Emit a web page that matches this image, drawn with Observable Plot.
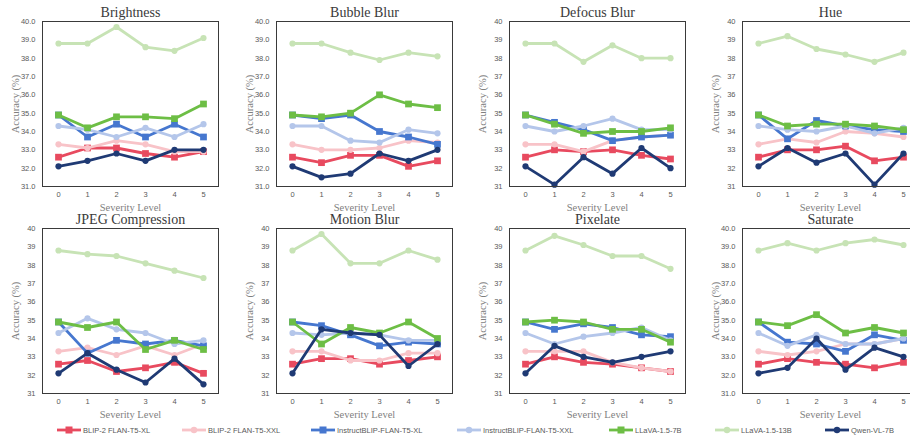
<!DOCTYPE html>
<html><head><meta charset="utf-8">
<script src="https://cdn.jsdelivr.net/npm/d3@7"></script>
<script src="https://cdn.jsdelivr.net/npm/@observablehq/plot@0.6"></script>
<style>
body{margin:0;background:#fff;overflow:hidden}
#root{position:relative;width:910px;height:441px;overflow:hidden;background:#fff}
.panel{position:absolute;width:222px;height:212px}
.panel svg{max-width:none !important}
.leg{position:absolute;top:425px;display:flex;align-items:center;font-family:"Liberation Sans",Arial,sans-serif;font-size:7.5px;color:#595959;white-space:nowrap}
.leg svg{margin-right:2px}
</style></head>
<body><div id="root"></div>
<script>
const severity = [0, 1, 2, 3, 4, 5];
const models = ["BLIP-2 FLAN-T5-XL", "BLIP-2 FLAN-T5-XXL", "InstructBLIP-FLAN-T5-XL", "InstructBLIP-FLAN-T5-XXL", "LLaVA-1.5-7B", "LLaVA-1.5-13B", "Qwen-VL-7B"];
const colors = ["#E84A5F", "#F8C3C8", "#4677CF", "#B4C6EA", "#6DBE45", "#C7E3B5", "#1F3A74"];
const symbols = ["square", "circle", "square", "circle", "square", "circle", "circle"];

// rows: models in order above; columns: severity 0..5
const brightness = [
  [32.6, 33.1, 33.1, 32.8, 32.6, 32.9],
  [33.3, 33.1, 33.5, 33.3, 32.9, 32.9],
  [34.9, 33.7, 34.4, 33.7, 34.4, 33.7],
  [34.3, 34.1, 33.7, 34.2, 33.7, 34.4],
  [34.9, 34.2, 34.8, 34.8, 34.7, 35.5],
  [38.8, 38.8, 39.7, 38.6, 38.4, 39.1],
  [32.1, 32.4, 32.8, 32.4, 33.0, 33.0]
];
const bubbleBlur = [
  [32.6, 32.3, 32.7, 32.7, 32.1, 32.4],
  [33.3, 33.0, 33.0, 33.1, 33.5, 33.4],
  [34.9, 34.7, 34.9, 34.0, 33.7, 33.3],
  [34.3, 34.3, 33.5, 33.4, 34.1, 33.9],
  [34.9, 34.8, 35.0, 36.0, 35.5, 35.3],
  [38.8, 38.8, 38.3, 37.9, 38.3, 38.1],
  [32.1, 31.5, 31.7, 32.8, 32.4, 33.0]
];
const defocusBlur = [
  [32.6, 33.0, 32.9, 33.0, 32.7, 32.5],
  [33.3, 33.3, 32.9, 33.5, 33.7, 33.8],
  [34.9, 34.5, 34.1, 33.5, 33.7, 33.8],
  [34.3, 34.0, 34.3, 34.7, 34.1, 34.1],
  [34.9, 34.4, 33.9, 34.0, 34.0, 34.2],
  [38.8, 38.8, 37.8, 38.7, 38.0, 38.0],
  [32.1, 31.1, 32.6, 31.7, 33.1, 32.0]
];
const hue = [
  [32.6, 33.0, 33.0, 33.2, 32.4, 32.6],
  [33.3, 33.6, 33.4, 34.0, 33.9, 33.7],
  [34.9, 33.6, 34.6, 34.3, 34.1, 34.0],
  [34.3, 34.1, 34.0, 34.3, 33.9, 34.2],
  [34.9, 34.3, 34.4, 34.4, 34.3, 34.1],
  [38.8, 39.2, 38.5, 38.2, 37.8, 38.3],
  [32.1, 33.1, 32.3, 32.8, 31.1, 32.8]
];
const jpegCompression = [
  [32.6, 32.8, 32.2, 32.4, 32.7, 32.1],
  [33.3, 33.5, 33.1, 33.6, 33.1, 33.7],
  [34.9, 33.2, 33.9, 33.7, 33.9, 33.6],
  [34.3, 35.1, 34.5, 34.3, 33.7, 33.9],
  [34.9, 34.6, 34.9, 33.4, 33.9, 33.4],
  [38.8, 38.6, 38.5, 38.1, 37.7, 37.3],
  [32.1, 33.2, 32.3, 31.6, 32.9, 31.5]
];
const motionBlur = [
  [32.6, 32.9, 32.9, 32.6, 32.8, 33.0],
  [33.3, 33.3, 32.8, 32.8, 33.2, 33.2],
  [34.9, 34.7, 34.2, 33.6, 33.8, 33.7],
  [34.3, 34.2, 34.3, 34.2, 33.9, 33.9],
  [34.9, 33.7, 34.6, 34.3, 34.9, 34.0],
  [38.8, 39.7, 38.1, 38.1, 38.8, 38.3],
  [32.1, 34.5, 34.3, 34.2, 32.5, 33.7]
];
const pixelate = [
  [32.6, 33.0, 32.7, 32.6, 32.4, 32.2],
  [33.3, 33.3, 33.3, 32.7, 32.4, 32.2],
  [34.9, 34.5, 34.8, 34.6, 34.2, 34.1],
  [34.3, 33.7, 34.1, 34.3, 34.6, 33.9],
  [34.9, 35.0, 34.9, 34.5, 34.5, 33.8],
  [38.8, 39.6, 39.1, 38.5, 38.5, 37.8],
  [32.1, 33.6, 33.0, 32.7, 33.0, 33.3]
];
const saturate = [
  [32.6, 32.9, 32.7, 32.6, 32.4, 32.7],
  [33.3, 33.1, 33.3, 33.7, 33.7, 34.0],
  [34.9, 33.8, 33.7, 33.3, 34.2, 33.9],
  [34.3, 33.6, 34.2, 33.7, 33.7, 34.0],
  [34.9, 34.7, 35.3, 34.3, 34.6, 34.3],
  [38.8, 39.2, 38.8, 39.2, 39.4, 39.1],
  [32.1, 32.4, 34.0, 32.3, 33.5, 33.0]
];
const yTicks = [31, 32, 33, 34, 35, 36, 37, 38, 39, 40];

const panels = [
  {title: "Brightness", values: brightness, fmt: ".1f"},
  {title: "Bubble Blur", values: bubbleBlur, fmt: ".1f"},
  {title: "Defocus Blur", values: defocusBlur, fmt: "d"},
  {title: "Hue", values: hue, fmt: "d"},
  {title: "JPEG Compression", values: jpegCompression, fmt: "d"},
  {title: "Motion Blur", values: motionBlur, fmt: "d"},
  {title: "Pixelate", values: pixelate, fmt: "d"},
  {title: "Saturate", values: saturate, fmt: ".1f"}
];

const colLeft = [0, 234, 467, 700];
const rowTop = [0, 207];
const root = document.getElementById("root");
const serif = "'Liberation Serif', 'Times New Roman', serif";

panels.forEach((p, k) => {
  const rows = p.values.flatMap((vals, i) => vals.map((v, j) => ({model: models[i], severity: severity[j], acc: v})));
  const seriesMarks = models.flatMap((m, i) => {
    const d = rows.filter(r => r.model === m);
    return [
      Plot.lineY(d, {x: "severity", y: "acc", stroke: "model", strokeWidth: 2.8}),
      Plot.dot(d, {x: "severity", y: "acc", fill: "model", symbol: symbols[i], r: symbols[i] === "square" ? 3.8 : 3.1})
    ];
  });
  const chart = Plot.plot({
    width: 222, height: 212,
    marginLeft: 42, marginRight: 4, marginTop: 21, marginBottom: 26,
    x: {type: "point", domain: severity, padding: 0.5},
    y: {domain: [31, 40]},
    color: {domain: models, range: colors},
    style: {fontFamily: "'Liberation Sans', Arial, sans-serif", fontSize: "7.5px", color: "#595959", background: "transparent", overflow: "visible", maxWidth: "none"},
    marks: [
      Plot.axisX({tickSize: 0, tickPadding: 5, label: null, fill: "#595959"}),
      Plot.axisY({ticks: yTicks, tickSize: 0, tickPadding: 7, tickFormat: d3.format(p.fmt), label: null, fill: "#595959"}),
      ...seriesMarks,
      Plot.frame({stroke: "#3a3a3a", strokeWidth: 1}),
      Plot.text([p.title], {frameAnchor: "top", dy: -9, lineAnchor: "middle", textAnchor: "middle", fontFamily: serif, fontSize: 14, fill: "#3a3a3a"}),
      Plot.text(["Accuracy (%)"], {frameAnchor: "left", dx: -27, rotate: -90, lineAnchor: "middle", textAnchor: "middle", fontFamily: serif, fontSize: 10.5, fill: "#7f7f7f"}),
      Plot.text(["Severity Level"], {frameAnchor: "bottom", dy: 21, lineAnchor: "middle", textAnchor: "middle", fontFamily: serif, fontSize: 10.5, fill: "#7f7f7f"})
    ]
  });
  const div = document.createElement("div");
  div.className = "panel";
  div.style.left = colLeft[k % 4] + "px";
  div.style.top = rowTop[Math.floor(k / 4)] + "px";
  div.appendChild(chart);
  root.appendChild(div);
});

// legend
const legendX = [57, 182, 311, 457, 609, 715, 825];
models.forEach((m, i) => {
  const item = document.createElement("div");
  item.className = "leg";
  item.style.left = legendX[i] + "px";
  const sym = symbols[i] === "square"
    ? `<rect x="8.5" y="1.5" width="7" height="7" fill="${colors[i]}"/>`
    : `<circle cx="12" cy="5" r="3.2" fill="${colors[i]}"/>`;
  item.innerHTML = `<svg width="24" height="10"><line x1="0" x2="24" y1="5" y2="5" stroke="${colors[i]}" stroke-width="2.8"/>${sym}</svg><span>${m}</span>`;
  root.appendChild(item);
});
</script>
</body></html>
